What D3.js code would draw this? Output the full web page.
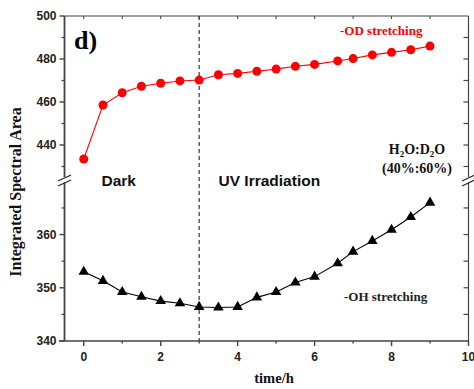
<!DOCTYPE html>
<html><head><meta charset="utf-8">
<script src="https://cdn.jsdelivr.net/npm/d3@7"></script>
<style>body{margin:0;background:#fff}</style>
</head><body>
<script>
const times = [0,0.5,1,1.5,2,2.5,3,3.5,4,4.5,5,5.5,6,6.6,7,7.5,8,8.5,9];
const odValues = [433.5,458.6,464.3,467.3,468.7,469.8,470.2,472.7,473.3,474.3,475.3,476.6,477.5,479.1,480.2,481.9,483.1,484.3,486.0];
const ohValues = [353.0,351.3,349.2,348.3,347.5,347.1,346.4,346.3,346.4,348.2,349.2,351.0,352.1,354.6,356.8,358.8,360.9,363.3,366.0];
const xTicks = [0,2,4,6,8,10];
const topTicks = [440,460,480,500];
const bottomTicks = [340,350,360];

const W=474,H=389;
const svg=d3.select("body").append("svg").attr("width",W).attr("height",H);
const AX="#444";
const x=d3.scaleLinear().domain([-0.5,10]).range([64.5,468.5]);
const yT=d3.scaleLinear().domain([424,500]).range([179.4,16]);
const yB=d3.scaleLinear().domain([340,369.5]).range([341,184]);
const L=x.range()[0], R=x.range()[1];

// frame lines
const g=svg.append("g");
g.append("line").attr("x1",L).attr("x2",R).attr("y1",16).attr("y2",16).attr("stroke",AX).attr("stroke-width",1.2);
g.append("line").attr("x1",59).attr("x2",R).attr("y1",341).attr("y2",341).attr("stroke",AX).attr("stroke-width",1.5);
[[16,177],[182.5,341]].forEach(s=>{
  g.append("line").attr("x1",L).attr("x2",L).attr("y1",s[0]).attr("y2",s[1]).attr("stroke",AX).attr("stroke-width",1.8);
  g.append("line").attr("x1",R).attr("x2",R).attr("y1",s[0]).attr("y2",s[1]).attr("stroke",AX).attr("stroke-width",1.2);
});
// break marks
[L,R].forEach(cx=>{
  [-2.5,2.5].forEach(dy=>{
    g.append("line").attr("x1",cx-6.5).attr("y1",180.5+dy+3).attr("x2",cx+6.5).attr("y2",180.5+dy-3)
     .attr("stroke","#222").attr("stroke-width",1.1);
  });
});

// left axis ticks & labels
const sans="'Liberation Sans', Arial, sans-serif";
const serif="'Liberation Serif','Times New Roman',serif";
function yTicksDraw(scale, majors, minors, rightMinors){
  minors.forEach(v=>{
    g.append("line").attr("x1",L-3).attr("x2",L).attr("y1",scale(v)).attr("y2",scale(v)).attr("stroke",AX).attr("stroke-width",1.2);
  });
  majors.forEach(v=>{
    g.append("line").attr("x1",L-5).attr("x2",L).attr("y1",scale(v)).attr("y2",scale(v)).attr("stroke",AX).attr("stroke-width",1.4);
    g.append("text").attr("x",L-8).attr("y",scale(v)).attr("dy","0.36em").attr("text-anchor","end")
     .attr("font-family",sans).attr("font-weight","bold").attr("font-size",12).attr("fill","#222").text(v);
  });
  rightMinors.forEach(v=>{
    g.append("line").attr("x1",R-5).attr("x2",R).attr("y1",scale(v)).attr("y2",scale(v)).attr("stroke",AX).attr("stroke-width",1.2);
  });
}
yTicksDraw(yT, topTicks, [430,450,470,490], [430,440,450,460,470,480,490]);
yTicksDraw(yB, bottomTicks, [345,355,365], [345,350,355,360,365]);

// bottom axis ticks
d3.range(0,11,1).forEach(v=>{
  const major = xTicks.includes(v);
  g.append("line").attr("x1",x(v)).attr("x2",x(v)).attr("y1",341).attr("y2",341+(major?5:2.5)).attr("stroke",AX).attr("stroke-width",1.4);
  g.append("line").attr("x1",x(v)).attr("x2",x(v)).attr("y1",16).attr("y2",19).attr("stroke",AX).attr("stroke-width",1);
});
xTicks.forEach(v=>{
  g.append("text").attr("x",x(v)).attr("y",361).attr("text-anchor","middle")
   .attr("font-family",sans).attr("font-weight","bold").attr("font-size",12).attr("fill","#222").text(v);
});

// dashed divider
g.append("line").attr("x1",x(3)).attr("x2",x(3)).attr("y1",16).attr("y2",341)
 .attr("stroke","#333").attr("stroke-width",1.2).attr("stroke-dasharray","4,3");

// OD series
const odData=times.map((t,i)=>[t,odValues[i]]);
svg.append("path").datum(odData).attr("fill","none").attr("stroke","#ff0000").attr("stroke-width",1.1)
 .attr("d",d3.line().x(d=>x(d[0])).y(d=>yT(d[1])));
svg.selectAll("circle.od").data(odData).enter().append("circle").attr("class","od")
 .attr("cx",d=>x(d[0])).attr("cy",d=>yT(d[1])).attr("r",4.5).attr("fill","#ff0000");

// OH series
const ohData=times.map((t,i)=>[t,ohValues[i]]);
svg.append("path").datum(ohData).attr("fill","none").attr("stroke","#000").attr("stroke-width",1.1)
 .attr("d",d3.line().x(d=>x(d[0])).y(d=>yB(d[1])));
const tri=d3.symbol().type(d3.symbolTriangle).size(48);
svg.selectAll("path.oh").data(ohData).enter().append("path").attr("class","oh")
 .attr("d",tri).attr("transform",d=>`translate(${x(d[0])},${yB(d[1])})`).attr("fill","#000");

// texts
function txt(xx,yy,s,font,size,fill,anchor){
  return svg.append("text").attr("x",xx).attr("y",yy).attr("font-family",font).attr("font-weight","bold")
   .attr("font-size",size).attr("fill",fill||"#000").attr("text-anchor",anchor||"start").text(s);
}
txt(74,49,"d)",serif,26);
txt(101.5,186,"Dark",sans,15.5,"#111");
txt(218.5,186,"UV Irradiation",sans,15.5,"#111");
txt(340,35,"-OD stretching",serif,13,"#ff0000");
txt(344,301,"-OH stretching",serif,13,"#222");
// H2O:D2O
const h=svg.append("text").attr("x",417).attr("y",154).attr("text-anchor","middle").attr("font-family",serif)
 .attr("font-weight","bold").attr("font-size",14).attr("fill","#111");
h.append("tspan").text("H");
h.append("tspan").attr("font-size",9).attr("dy",3).text("2");
h.append("tspan").attr("dy",-3).text("O:D");
h.append("tspan").attr("font-size",9).attr("dy",3).text("2");
h.append("tspan").attr("dy",-3).text("O");
txt(417,173,"(40%:60%)",serif,14,"#111","middle");
txt(274,383,"time/h",serif,14.5,"#111","middle");
svg.append("text").attr("transform","translate(21,192) rotate(-90)").attr("text-anchor","middle")
 .attr("font-family",serif).attr("font-weight","bold").attr("font-size",16).attr("fill","#111")
 .text("Integrated Spectral Area");
</script>
</body></html>
